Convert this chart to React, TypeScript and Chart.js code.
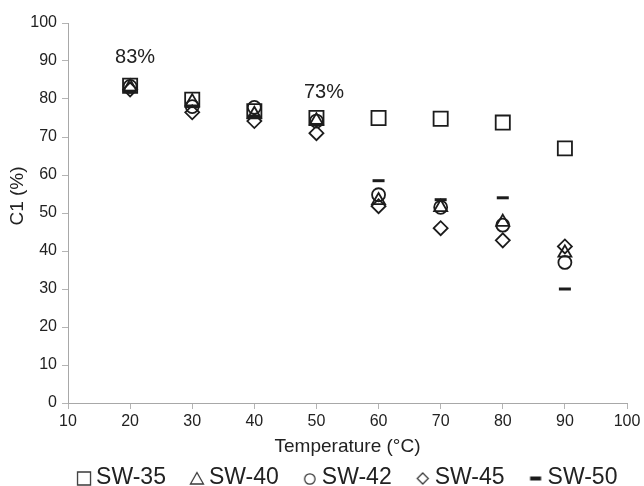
import React, { useEffect, useRef } from "react";
import { Chart, registerables } from "chart.js";

Chart.register(...registerables);

// ---- data ----
const temperatures = [20, 30, 40, 50, 60, 70, 80, 90];
const seriesNames = ["SW-35", "SW-40", "SW-42", "SW-45", "SW-50"];
const sw35 = [83.5, 79.8, 76.8, 75.0, 75.0, 74.8, 73.8, 67.0];
const sw40 = [83.2, 79.3, 76.0, 74.3, 53.3, 51.5, 47.6, 39.5];
const sw42 = [83.3, 78.0, 77.8, 74.2, 54.8, 51.5, 46.8, 37.0];
const sw45 = [82.5, 76.5, 74.2, 71.0, 51.8, 46.0, 42.8, 41.2];
const sw50 = [82.0, 78.0, 75.5, 73.3, 58.5, 53.5, 54.0, 30.0];
const xTickMin = 10;
const xTickMax = 100;
const yTickMin = 0;
const yTickMax = 100;
const annotationTexts = ["83%", "73%"];
const annotationX = [20.8, 51.2];
const annotationY = [90.8, 81.8];
const xAxisTitle = "Temperature (°C)";
const yAxisTitle = "C1 (%)";

const FONT = "'Liberation Sans', Arial, sans-serif";
const INK = "#1c1c1c";

const seriesValues = [sw35, sw40, sw42, sw45, sw50];
const pointStyles = ["rect", "triangle", "circle", "rectRot", "line"];
const pointRadii = [10, 7.5, 6.5, 7, 6];
const pointBorders = [1.8, 1.8, 1.8, 1.8, 3];

function legendMarker(kind: string): HTMLCanvasElement {
  const c = document.createElement("canvas");
  c.width = 44;
  c.height = 24;
  const g = c.getContext("2d")!;
  const cx = 34;
  const cy = 12.5;
  g.strokeStyle = "#3a3a3a";
  g.fillStyle = "#1a1a1a";
  g.lineWidth = 1.3;
  g.beginPath();
  if (kind === "rect") {
    g.rect(cx - 6.5, cy - 6.5, 13, 13);
    g.stroke();
  } else if (kind === "triangle") {
    g.moveTo(cx, cy - 6);
    g.lineTo(cx + 6.5, cy + 5.5);
    g.lineTo(cx - 6.5, cy + 5.5);
    g.closePath();
    g.stroke();
  } else if (kind === "circle") {
    g.arc(cx, cy + 0.5, 5.2, 0, Math.PI * 2);
    g.stroke();
  } else if (kind === "rectRot") {
    g.moveTo(cx, cy - 5.5);
    g.lineTo(cx + 5.5, cy);
    g.lineTo(cx, cy + 5.5);
    g.lineTo(cx - 5.5, cy);
    g.closePath();
    g.stroke();
  } else {
    g.fillRect(cx - 5.5, cy - 2, 11, 4);
  }
  return c;
}

const annotationPlugin = {
  id: "textAnnotations",
  afterDatasetsDraw(chart: any) {
    const { ctx, scales } = chart;
    ctx.save();
    ctx.font = `20px ${FONT}`;
    ctx.fillStyle = "#222";
    ctx.textAlign = "center";
    ctx.textBaseline = "middle";
    annotationTexts.forEach((t, i) => {
      ctx.fillText(t, scales.x.getPixelForValue(annotationX[i]), scales.y.getPixelForValue(annotationY[i]));
    });
    ctx.restore();
  },
};

const yTitlePlugin = {
  id: "yTitle",
  afterDraw(chart: any) {
    const { ctx, chartArea } = chart;
    ctx.save();
    ctx.font = `19px ${FONT}`;
    ctx.fillStyle = "#222";
    ctx.textAlign = "center";
    ctx.textBaseline = "middle";
    ctx.translate(18, (chartArea.top + chartArea.bottom) / 2 - 17);
    ctx.rotate(-Math.PI / 2);
    ctx.fillText(yAxisTitle, 0, 0);
    ctx.restore();
  },
};

const legendShiftPlugin = {
  id: "legendShift",
  afterLayout(chart: any) {
    const lg = chart.legend;
    if (!lg) return;
    lg.left += 10;
    lg.right += 10;
    lg.top += 2;
    lg.bottom += 2;
  },
};

export default function App() {
  const ref = useRef<HTMLCanvasElement | null>(null);

  useEffect(() => {
    document.body.style.margin = "0";
    const canvas = ref.current!;
    const markers = pointStyles.map(legendMarker);
    const datasets = seriesNames.map((name, i) => ({
      label: name,
      data: temperatures.map((t, j) => ({ x: t, y: seriesValues[i][j] })),
      pointStyle: pointStyles[i],
      pointRadius: pointRadii[i],
      pointHoverRadius: pointRadii[i],
      borderColor: INK,
      backgroundColor: "rgba(0,0,0,0)",
      borderWidth: pointBorders[i],
      pointBorderWidth: pointBorders[i],
      showLine: false,
    }));

    const gridOpts = {
      display: true,
      drawOnChartArea: false,
      drawTicks: true,
      tickLength: 6,
      color: "#b4b4b4",
    };

    const chart = new Chart(canvas, {
      type: "scatter",
      data: { datasets },
      plugins: [annotationPlugin, yTitlePlugin, legendShiftPlugin],
      options: {
        responsive: false,
        animation: false,
        devicePixelRatio: 1,
        layout: { padding: { top: 23, left: 30, right: 17, bottom: -11.5 } },
        plugins: {
          tooltip: { enabled: false },
          legend: {
            display: true,
            position: "bottom",
            labels: {
              usePointStyle: true,
              pointStyleWidth: 25,
              padding: 6.5,
              color: "#222",
              font: { family: FONT, size: 23 },
              generateLabels: (ch: any) =>
                ch.data.datasets.map((ds: any, i: number) => ({
                  text: ds.label,
                  pointStyle: markers[i],
                  fillStyle: "rgba(0,0,0,0)",
                  strokeStyle: "rgba(0,0,0,0)",
                  lineWidth: 0,
                  hidden: false,
                  datasetIndex: i,
                  fontColor: "#222",
                })),
            },
          },
        },
        scales: {
          x: {
            type: "linear",
            min: xTickMin,
            max: xTickMax,
            grid: gridOpts,
            border: { display: true, color: "#a8a8a8", width: 1 },
            ticks: { stepSize: 10, padding: 3, color: "#222", font: { family: FONT, size: 16 } },
            title: {
              display: true,
              text: xAxisTitle,
              color: "#222",
              font: { family: FONT, size: 19 },
              padding: { top: 1, bottom: 0 },
            },
            afterFit: (s: any) => {
              s.paddingLeft = 0;
              s.paddingRight = 0;
            },
          },
          y: {
            type: "linear",
            min: yTickMin,
            max: yTickMax,
            grid: gridOpts,
            border: { display: true, color: "#a8a8a8", width: 1 },
            ticks: { stepSize: 10, padding: 5, color: "#222", font: { family: FONT, size: 16 } },
            afterFit: (s: any) => {
              s.width = 38;
              s.paddingTop = 0;
              s.paddingBottom = 0;
            },
          },
        },
      } as any,
    });
    return () => chart.destroy();
  }, []);

  return (
    <div style={{ width: 644, height: 486, background: "#fff" }}>
      <canvas ref={ref} width={644} height={486} style={{ width: 644, height: 486, display: "block" }} />
    </div>
  );
}
